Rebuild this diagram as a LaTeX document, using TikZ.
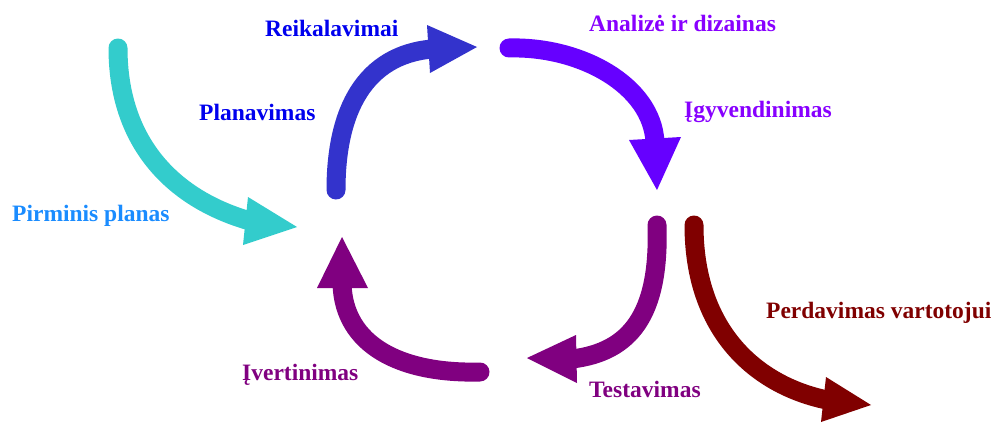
\documentclass[tikz,border=0pt]{standalone}
\usepackage{fontspec}
\setmainfont{Liberation Serif}
\newfontfamily\labelfont{Liberation Serif}[BoldFont={* Bold}]
\definecolor{cyanarrow}{HTML}{33CCCC}
\definecolor{bluearrow}{HTML}{3333CC}
\definecolor{violetarrow}{HTML}{6600FF}
\definecolor{purplearrow}{HTML}{800080}
\definecolor{maroonarrow}{HTML}{800000}
\definecolor{bluetext}{HTML}{0000EE}
\definecolor{skytext}{HTML}{1A8CFF}
\definecolor{violettext}{HTML}{8800FF}
\begin{document}
\begin{tikzpicture}[x=1pt,y=-1pt,
  shaft/.style={line width=19pt, line cap=round},
  head/.style={draw=none},
  lbl/.style={font=\labelfont\bfseries\fontsize{23.5}{28}\selectfont, inner sep=0pt, anchor=base west}]
\useasboundingbox[fill=white] (0,0) rectangle (994,423);

% labels
\node[lbl, text=bluetext]    (req)  at (265,36)  {Reikalavimai};
\node[lbl, text=bluetext]    (plan) at (199,120) {Planavimas};
\node[lbl, text=skytext]     (init) at (12,221)  {Pirminis planas};
\node[lbl, text=violettext]  (anal) at (589,31)  {Analizė ir dizainas};
\node[lbl, text=violettext]  (impl) at (684,117) {Įgyvendinimas};
\node[lbl, text=purplearrow] (eval) at (242,380) {Įvertinimas};
\node[lbl, text=purplearrow] (test) at (589,397) {Testavimas};
\node[lbl, text=maroonarrow] (dlv)  at (766,318) {Perdavimas vartotojui};

% initial plan arrow
\coordinate (c0) at (118,48);   \coordinate (c1) at (250,221);
\draw[shaft, cyanarrow] (c0) .. controls (118,140) and (170,198) .. (c1);
\fill[head, cyanarrow] (248,197) -- (297,227) -- (243,245) -- cycle;

% planning -> requirements
\coordinate (b0) at (336,190);  \coordinate (b1) at (432,49);
\draw[shaft, bluearrow] (b0) .. controls (336,110) and (365,55) .. (b1);
\fill[head, bluearrow] (427,25) -- (477,47) -- (430,73) -- cycle;

% analysis and design -> implementation
\coordinate (v0) at (509,48);   \coordinate (v1) at (655,142);
\draw[shaft, violetarrow] (v0) .. controls (580,46) and (652,85) .. (v1);
\fill[head, violetarrow] (629,140) -- (657,190) -- (681,137) -- cycle;

% testing
\coordinate (t0) at (657,225);  \coordinate (t1) at (572,359);
\draw[shaft, purplearrow] (t0) .. controls (660,315) and (630,352) .. (t1);
\fill[head, purplearrow] (576,335) -- (527,358) -- (577,383) -- cycle;

% evaluation
\coordinate (e0) at (480,372);  \coordinate (e1) at (342,284);
\draw[shaft, purplearrow] (e0) .. controls (400,374) and (344,345) .. (e1);
\fill[head, purplearrow] (317,288) -- (342,237) -- (368,288) -- cycle;

% delivery to the user
\coordinate (d0) at (694,225);  \coordinate (d1) at (827,400);
\draw[shaft, maroonarrow] (d0) .. controls (694,330) and (755,385) .. (d1);
\fill[head, maroonarrow] (826,377) -- (871,405) -- (821,422) -- cycle;
\end{tikzpicture}
\end{document}
